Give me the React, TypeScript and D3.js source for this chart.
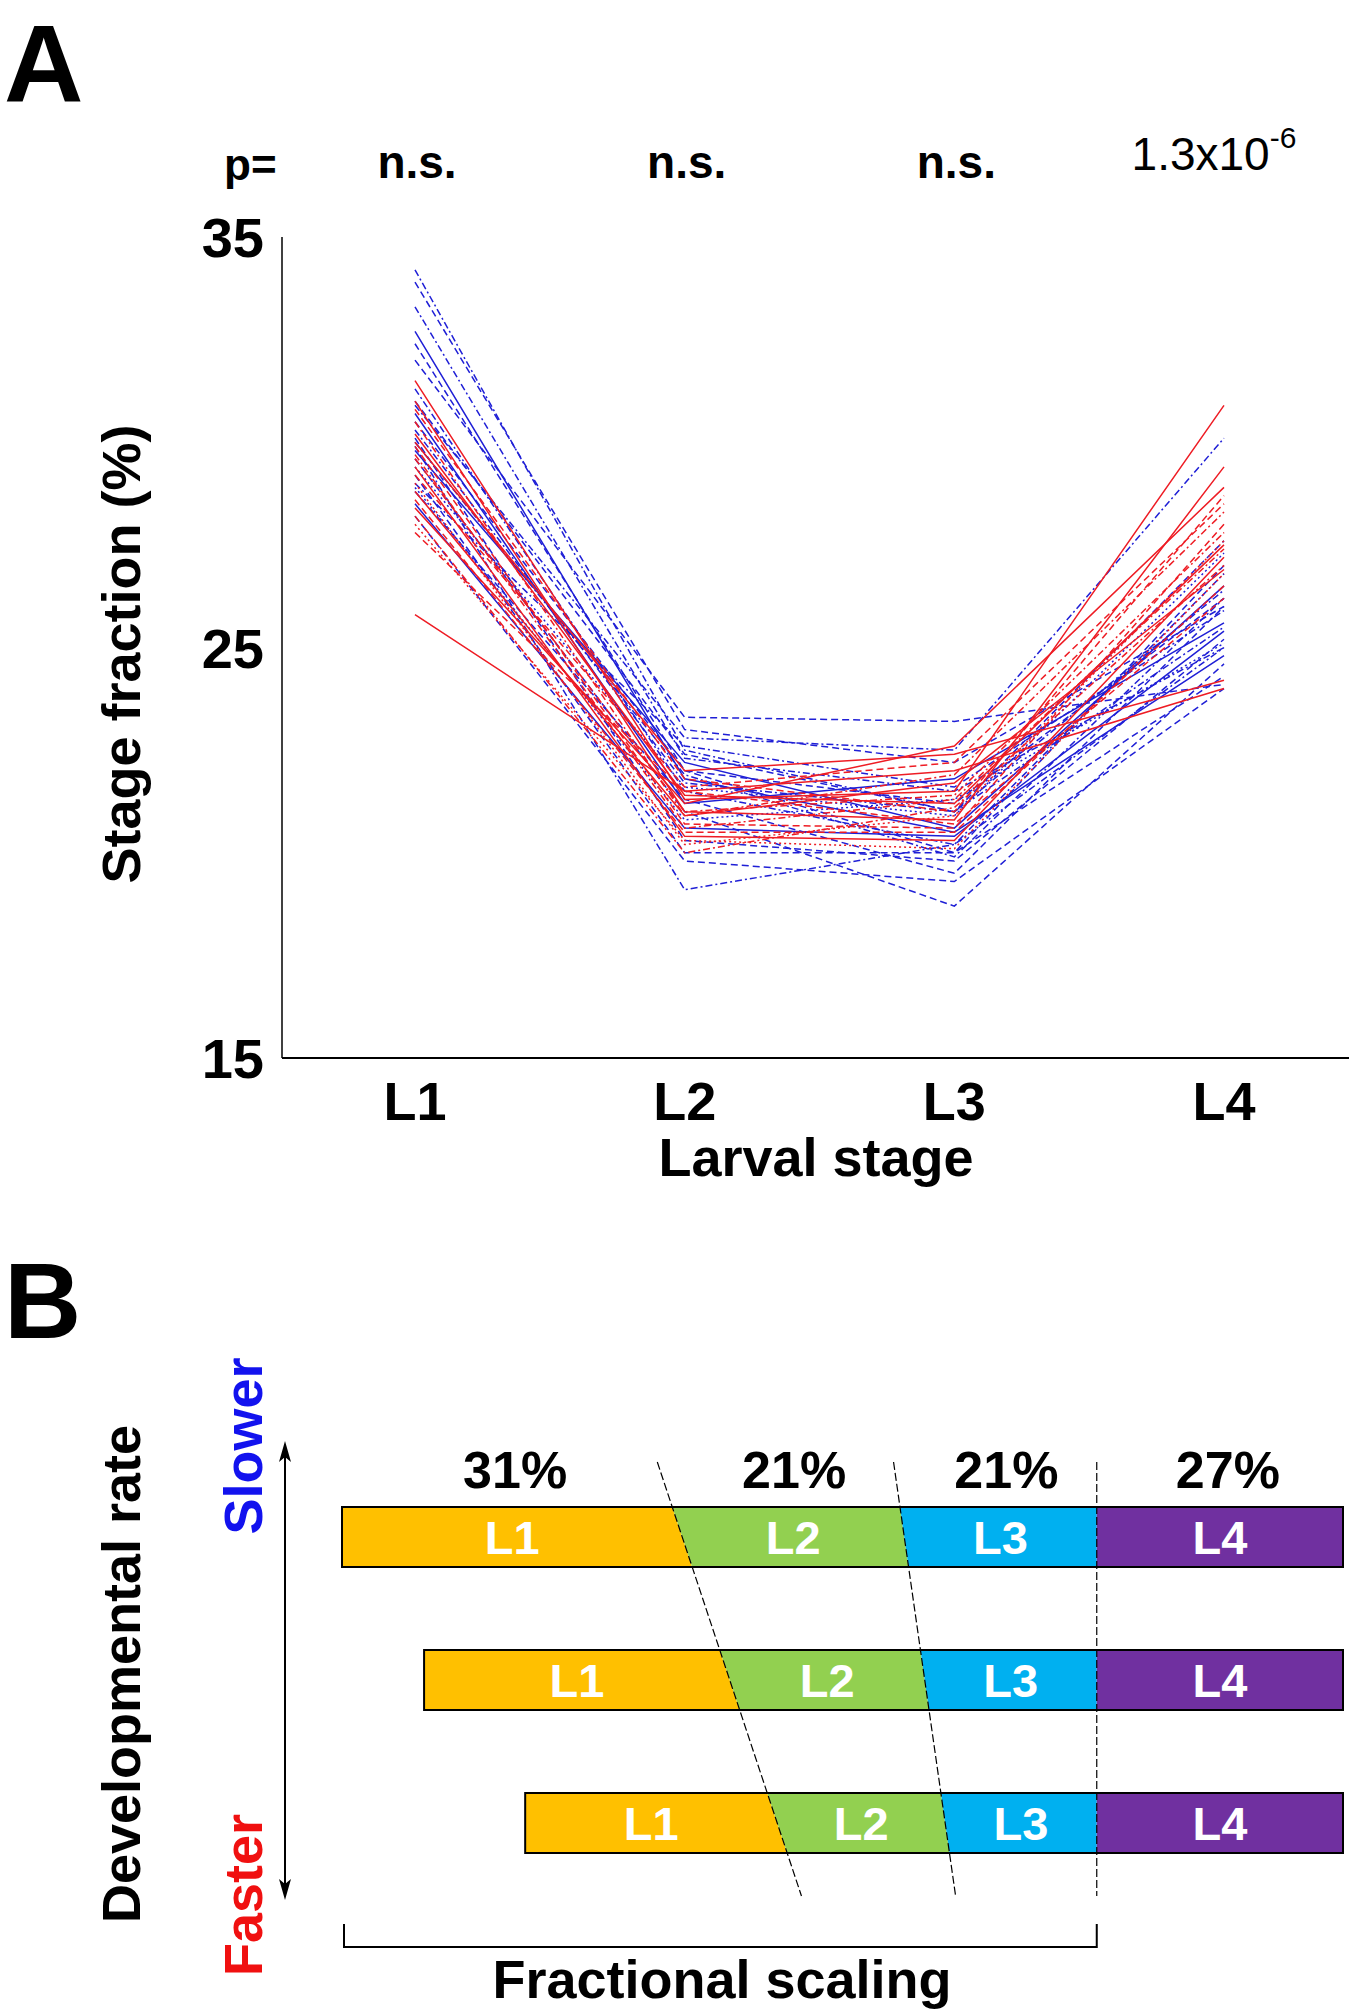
import React from "react";
import * as d3 from "d3";

// ---------- Panel A data ----------
const stages = ["L1", "L2", "L3", "L4"];
const yTicks = [15, 25, 35];
const pValues = ["n.s.", "n.s.", "n.s.", "1.3x10"];
const pExponent = "-6";

// Slower worms (blue): stage fraction (%) at L1..L4
const blueSeries: number[][] = [
  [34.2, 22.5, 21.0, 25.5],
  [33.9, 23.0, 22.2, 26.0],
  [33.3, 22.3, 21.5, 25.0],
  [32.7, 21.8, 20.5, 24.8],
  [32.4, 22.0, 21.2, 26.2],
  [32.0, 23.3, 23.2, 24.1],
  [31.3, 21.5, 20.2, 26.8],
  [30.9, 22.8, 22.5, 30.1],
  [30.7, 21.2, 21.8, 25.6],
  [30.5, 22.0, 20.0, 27.0],
  [30.3, 21.7, 21.0, 26.4],
  [30.1, 20.3, 19.8, 25.2],
  [29.9, 19.1, 20.2, 25.0],
  [29.8, 22.2, 20.6, 26.5],
  [29.6, 21.0, 18.7, 24.6],
  [29.4, 21.6, 20.9, 27.3],
  [29.2, 20.0, 20.0, 24.3],
  [29.0, 22.6, 21.6, 25.9],
  [28.8, 21.3, 19.5, 26.0],
  [28.5, 20.6, 20.4, 25.4],
  [28.2, 19.8, 19.3, 24.0],
  [31.0, 22.4, 21.0, 27.6],
  [30.0, 21.9, 19.9, 26.2],
  [28.9, 20.8, 21.3, 25.1],
];
const blueStyles = [
  "dashdot", "dashed", "dashdot", "solid", "dashed", "dashed", "dashdot", "dashdot",
  "solid", "dashed", "dashdot", "dashed", "dashdot", "solid", "dashed", "dotted",
  "dashed", "dashdot", "dashed", "solid", "dashed", "dashed", "dashdot", "dotted",
];

// Faster worms (red)
const redSeries: number[][] = [
  [31.5, 21.3, 21.5, 30.9],
  [31.0, 21.0, 20.8, 29.4],
  [30.8, 21.8, 21.0, 28.7],
  [30.5, 20.9, 21.9, 28.3],
  [30.2, 21.4, 21.2, 27.5],
  [29.9, 20.7, 20.6, 28.0],
  [29.6, 21.0, 21.4, 27.8],
  [29.4, 20.4, 20.3, 27.2],
  [29.2, 21.6, 22.2, 28.5],
  [29.0, 20.2, 20.9, 27.6],
  [28.8, 20.9, 21.7, 26.9],
  [28.6, 20.5, 20.5, 26.5],
  [28.4, 21.2, 22.6, 28.9],
  [28.2, 20.0, 21.1, 27.0],
  [27.8, 21.5, 20.7, 26.2],
  [25.8, 21.5, 22.0, 24.0],
  [30.0, 22.0, 22.4, 24.2],
  [29.7, 20.6, 21.3, 27.4],
  [28.0, 20.3, 20.1, 26.8],
];
const redStyles = [
  "solid", "solid", "dashed", "dashdot", "solid", "dashed", "dashdot", "solid",
  "dashed", "dotted", "solid", "dashed", "solid", "dashdot", "dashed", "solid",
  "solid", "dashdot", "dotted",
];

// ---------- Panel B data ----------
const fractionLabels = ["31%", "21%", "21%", "27%"];
const stageColors = ["#FFC000", "#92D050", "#00B0F0", "#7030A0"];
const rowNames = ["slow", "mid", "fast"];
const rowStarts = [0, 8.2, 18.3]; // schematic time units, row end = 100
const rowEnd = 100;
const guideTop = [31.5, 55.1, 75.4]; // guide x at top of guide lines
const guideBottom = [45.9, 61.3, 75.4]; // guide x at bottom of guide lines

const FONT = "'Liberation Sans', Arial, Helvetica, sans-serif";
const dashMap: Record<string, string> = {
  solid: "none",
  dashed: "7,4",
  dashdot: "7,3,2,3",
  dotted: "2,3",
};

export default function App() {
  // Panel A scales
  const x = d3.scalePoint<string>().domain(stages).range([415, 1224]);
  const y = d3.scaleLinear().domain([15, 35]).range([1058, 237]);
  const line = d3
    .line<number>()
    .x((_, i) => x(stages[i]) as number)
    .y((d) => y(d));

  // Panel B scales
  const bx = d3.scaleLinear().domain([0, 100]).range([342, 1343]);
  const rowY = d3.scaleLinear().domain([0, 2]).range([1507, 1793]);
  const barH = 60;
  const guideY0 = 1462;
  const guideY1 = 1896;
  const guideAt = (g: number, py: number) => {
    const t = (py - guideY0) / (guideY1 - guideY0);
    return guideTop[g] + t * (guideBottom[g] - guideTop[g]);
  };

  return (
    <div>
      <style>{`body{margin:0;background:#fff}`}</style>
      <svg width={1362} height={2010} style={{ display: "block" }} fontFamily={FONT}>
        <rect width={1362} height={2010} fill="#fff" />
        {/* Panel A */}
        <text x={4} y={101} fontSize={110} fontWeight="bold">A</text>
        <text x={224} y={180} fontSize={44} fontWeight="bold">p=</text>
        {pValues.map((p, i) => (
          <text
            key={i}
            x={(x(stages[i]) as number) + (i === 3 ? -10 : 2)}
            y={i === 3 ? 170 : 178}
            fontSize={46}
            fontWeight={i === 3 ? "normal" : "bold"}
            textAnchor="middle"
          >
            {p}
            {i === 3 && (
              <tspan dy={-22} fontSize={30}>{pExponent}</tspan>
            )}
          </text>
        ))}
        {/* series */}
        <g fill="none" strokeWidth={1.5}>
          {blueSeries.map((s, i) => (
            <path
              key={"b" + i}
              d={line(s) || ""}
              stroke="#1f1fd6"
              strokeDasharray={dashMap[blueStyles[i]]}
            />
          ))}
          {redSeries.map((s, i) => (
            <path
              key={"r" + i}
              d={line(s) || ""}
              stroke="#ee1c24"
              strokeDasharray={dashMap[redStyles[i]]}
            />
          ))}
        </g>
        {/* axes */}
        <line x1={282} x2={282} y1={y(35)} y2={y(15)} stroke="#000" strokeWidth={1.5} />
        <line x1={282} x2={1349} y1={y(15)} y2={y(15)} stroke="#000" strokeWidth={2} />
        {yTicks.map((t) => (
          <text key={t} x={264} y={y(t) + 20} fontSize={56} fontWeight="bold" textAnchor="end">
            {t}
          </text>
        ))}
        {stages.map((s) => (
          <text key={s} x={x(s)} y={1120} fontSize={54} fontWeight="bold" textAnchor="middle">
            {s}
          </text>
        ))}
        <text x={816} y={1176} fontSize={54} fontWeight="bold" textAnchor="middle">
          Larval stage
        </text>
        <text
          transform="translate(140,654) rotate(-90)"
          fontSize={54}
          fontWeight="bold"
          textAnchor="middle"
        >
          Stage fraction (%)
        </text>

        {/* Panel B */}
        <text x={4} y={1338} fontSize={107} fontWeight="bold">B</text>
        <text
          transform="translate(140,1674) rotate(-90)"
          fontSize={54}
          fontWeight="bold"
          textAnchor="middle"
        >
          Developmental rate
        </text>
        <text
          transform="translate(262,1446) rotate(-90)"
          fontSize={54}
          fontWeight="bold"
          fill="#1212ee"
          textAnchor="middle"
        >
          Slower
        </text>
        <text
          transform="translate(262,1895) rotate(-90)"
          fontSize={54}
          fontWeight="bold"
          fill="#f01010"
          textAnchor="middle"
        >
          Faster
        </text>
        {/* double arrow */}
        <line x1={285} x2={285} y1={1455} y2={1886} stroke="#000" strokeWidth={2} />
        <path d="M285,1441 L279,1462 L285,1457 L291,1462 Z" fill="#000" />
        <path d="M285,1900 L279,1879 L285,1884 L291,1879 Z" fill="#000" />

        {/* percent labels over row 1 */}
        {fractionLabels.map((f, k) => {
          const top = rowY(0);
          const bounds = [rowStarts[0], guideAt(0, top), guideAt(1, top), guideAt(2, top), rowEnd];
          const cx = bx((bounds[k] + bounds[k + 1]) / 2) + 8;
          return (
            <text key={k} x={cx} y={1488} fontSize={52} fontWeight="bold" textAnchor="middle">
              {f}
            </text>
          );
        })}

        {/* bars */}
        {rowNames.map((name, r) => {
          const y0 = rowY(r);
          const y1 = y0 + barH;
          const topB = [rowStarts[r], guideAt(0, y0), guideAt(1, y0), guideAt(2, y0), rowEnd];
          const botB = [rowStarts[r], guideAt(0, y1), guideAt(1, y1), guideAt(2, y1), rowEnd];
          return (
            <g key={name}>
              {stages.map((s, k) => {
                const pts = [
                  [bx(topB[k]), y0],
                  [bx(topB[k + 1]), y0],
                  [bx(botB[k + 1]), y1],
                  [bx(botB[k]), y1],
                ];
                const cx = (pts[0][0] + pts[1][0] + pts[2][0] + pts[3][0]) / 4;
                return (
                  <g key={s}>
                    <polygon
                      points={pts.map((p) => p.join(",")).join(" ")}
                      fill={stageColors[k]}
                    />
                    <text
                      x={cx}
                      y={y0 + barH / 2 + 17}
                      fontSize={47}
                      fontWeight="bold"
                      fill="#fff"
                      textAnchor="middle"
                    >
                      {s}
                    </text>
                  </g>
                );
              })}
              <rect
                x={bx(rowStarts[r])}
                y={y0}
                width={bx(rowEnd) - bx(rowStarts[r])}
                height={barH}
                fill="none"
                stroke="#000"
                strokeWidth={2}
              />
            </g>
          );
        })}
        {/* guide lines */}
        {guideTop.map((g, i) => (
          <line
            key={i}
            x1={bx(g)}
            y1={guideY0}
            x2={bx(guideBottom[i])}
            y2={guideY1}
            stroke="#000"
            strokeWidth={1.2}
            strokeDasharray="8,3"
          />
        ))}
        {/* bracket */}
        <path
          d={`M${bx(0) + 2},1924 L${bx(0) + 2},1947 L${bx(guideTop[2])},1947 L${bx(guideTop[2])},1924`}
          fill="none"
          stroke="#000"
          strokeWidth={2}
        />
        <text x={722} y={1998} fontSize={54} fontWeight="bold" textAnchor="middle">
          Fractional scaling
        </text>
      </svg>
    </div>
  );
}
